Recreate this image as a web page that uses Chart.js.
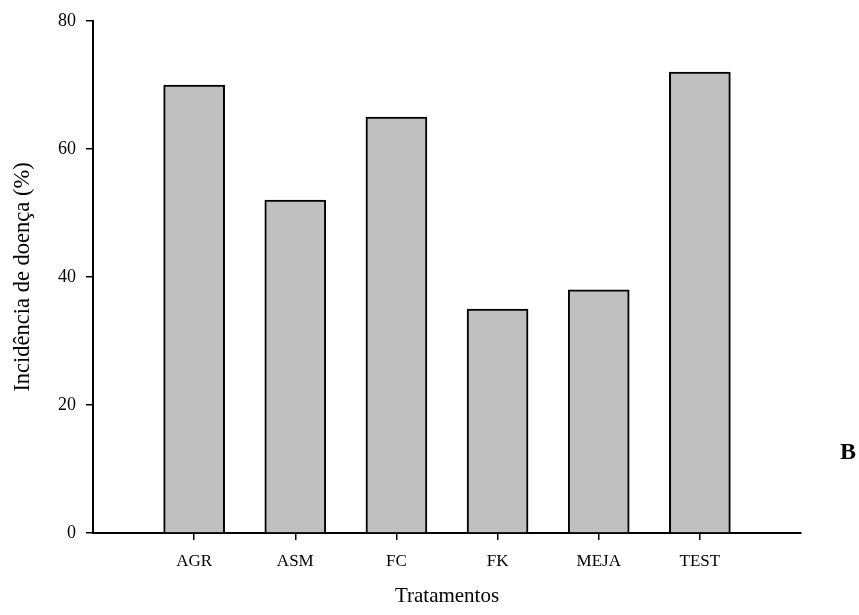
<!DOCTYPE html>
<html>
<head>
<meta charset="utf-8">
<script src="https://cdn.jsdelivr.net/npm/chart.js@4"></script>
<style>
  html, body { margin: 0; padding: 0; background: #ffffff; }
  #wrap { position: relative; width: 859px; height: 615px; }
  #panel { position: absolute; left: 840px; top: 439px; font: bold 24px 'Liberation Serif', 'Times New Roman', serif; color: #000; line-height: 1; }
</style>
</head>
<body>
<div id="wrap">
  <canvas id="c" width="859" height="615"></canvas>
  <div id="panel">B</div>
</div>
<script>
// Disease incidence per treatment
const categories = ['AGR', 'ASM', 'FC', 'FK', 'MEJA', 'TEST'];
const incidence = [70, 52, 65, 35, 38, 72];
const yTicks = [0, 20, 40, 60, 80];

// Empty slots on each side leave room between the axis and the first/last bar
const labels = [''].concat(categories, ['']);
const values = [null].concat(incidence, [null]);

const serif = "'Liberation Serif', 'Times New Roman', serif";

new Chart(document.getElementById('c'), {
  type: 'bar',
  data: {
    labels: labels,
    datasets: [{
      data: values,
      backgroundColor: '#c0c0c0',
      borderColor: '#000000',
      borderWidth: 2,
      barThickness: 61
    }]
  },
  options: {
    responsive: false,
    animation: false,
    devicePixelRatio: 1,
    layout: { padding: { top: 21, right: 58, left: 0, bottom: 0 } },
    plugins: { legend: { display: false }, tooltip: { enabled: false } },
    scales: {
      x: {
        type: 'category',
        offset: false,
        afterFit: s => { s.height = 82; },
        grid: {
          offset: false,
          drawOnChartArea: false,
          drawTicks: true,
          tickLength: 7,
          lineWidth: 1.5,
          color: ctx => (labels[ctx.index] === '' ? 'rgba(0,0,0,0)' : '#000000')
        },
        border: { display: true, color: '#000000', width: 2 },
        ticks: {
          color: '#000000',
          padding: 11,
          maxRotation: 0,
          autoSkip: false,
          font: { family: serif, size: 17 }
        },
        title: {
          display: true,
          text: 'Tratamentos',
          color: '#000000',
          font: { family: serif, size: 21 },
          padding: { top: 0, bottom: 6 }
        }
      },
      y: {
        min: yTicks[0],
        max: yTicks[yTicks.length - 1],
        afterFit: s => { s.width = 93; },
        afterBuildTicks: s => { s.ticks = yTicks.map(v => ({ value: v })); },
        grid: {
          drawOnChartArea: false,
          drawTicks: true,
          tickLength: 7,
          lineWidth: 1.5,
          color: '#000000'
        },
        border: { display: true, color: '#000000', width: 2 },
        ticks: {
          color: '#000000',
          padding: 10,
          font: { family: serif, size: 18 }
        },
        title: {
          display: true,
          text: 'Incidência de doença (%)',
          color: '#000000',
          font: { family: serif, size: 22.5 },
          padding: { top: 10, bottom: 0 }
        }
      }
    }
  }
});
</script>
</body>
</html>
